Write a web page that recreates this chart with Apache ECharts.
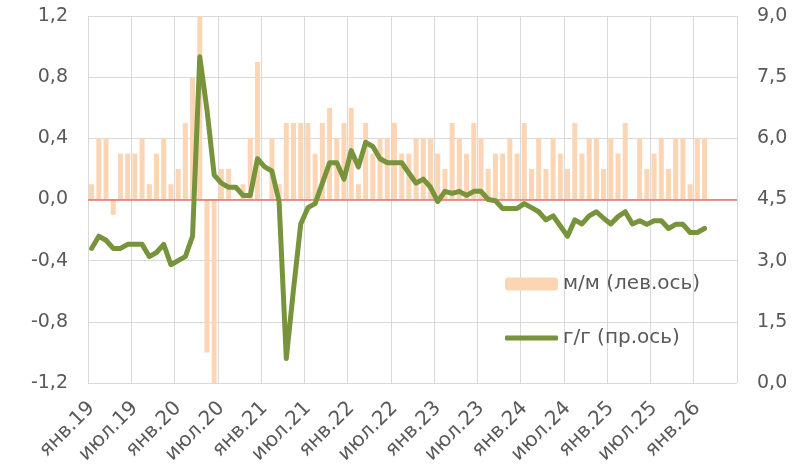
<!DOCTYPE html>
<html>
<head>
<meta charset="utf-8">
<script src="https://cdn.jsdelivr.net/npm/echarts@6/dist/echarts.min.js"></script>
<style>
html, body { margin: 0; padding: 0; background: #fff; }
#chart { width: 792px; height: 472px; }
</style>
</head>
<body>
<div id="chart"></div>
<script>
// подписи месяцев, янв.19 ... июн.26
const months = ['янв', 'фев', 'мар', 'апр', 'май', 'июн', 'июл', 'авг', 'сен', 'окт', 'ноя', 'дек']
const years = ['19', '20', '21', '22', '23', '24', '25', '26']
const categories = []
years.forEach(y => months.forEach(m => categories.push(m + '.' + y)))
categories.length = 90

// м/м, %, левая ось
const mom = [
  0.1, 0.4, 0.4, -0.1, 0.3, 0.3, 0.3, 0.4, 0.1, 0.3, 0.4, 0.1,
  0.2, 0.5, 0.8, 1.2, -1.0, -1.2, 0.2, 0.2, 0.0, 0.1, 0.4, 0.9,
  0.0, 0.4, 0.1, 0.5, 0.5, 0.5, 0.5, 0.3, 0.5, 0.6, 0.4, 0.5,
  0.6, 0.1, 0.5, 0.3, 0.4, 0.4, 0.5, 0.3, 0.3, 0.4, 0.4, 0.4,
  0.3, 0.2, 0.5, 0.4, 0.3, 0.5, 0.4, 0.2, 0.3, 0.3, 0.4, 0.3,
  0.5, 0.2, 0.4, 0.2, 0.4, 0.3, 0.2, 0.5, 0.3, 0.4, 0.4, 0.2,
  0.4, 0.3, 0.5, 0.0, 0.4, 0.2, 0.3, 0.4, 0.2, 0.4, 0.4, 0.1,
  0.4, 0.4
]

// г/г, %, правая ось
const yoy = [
  3.3, 3.6, 3.5, 3.3, 3.3, 3.4, 3.4, 3.4, 3.1, 3.2, 3.4, 2.9,
  3.0, 3.1, 3.6, 8.0, 6.7, 5.1, 4.9, 4.8, 4.8, 4.6, 4.6, 5.5,
  5.3, 5.2, 4.45, 0.6, 2.3, 3.9, 4.3, 4.4, 4.9, 5.4, 5.4, 5.0,
  5.7, 5.3, 5.9, 5.8, 5.5, 5.4, 5.4, 5.4, 5.15, 4.9, 5.0, 4.8,
  4.45, 4.7, 4.65, 4.7, 4.6, 4.7, 4.7, 4.5, 4.47, 4.28, 4.28, 4.28,
  4.4, 4.3, 4.2, 4.0, 4.1, 3.85, 3.6, 4.0, 3.9, 4.1, 4.2, 4.04,
  3.9, 4.08, 4.2, 3.9, 3.98, 3.89, 3.98, 3.98, 3.79, 3.89, 3.89, 3.69,
  3.69, 3.79
]

// вертикальная сетка: границы полугодий
const gridMonths = [0, 6, 12, 18, 24, 30, 36, 42, 48, 54, 60, 66, 72, 78, 84, 90]

const textColor = '#595959'
const gridColor = '#D9D9D9'
const font = 'DejaVu Sans'
const fmt = v => v.toFixed(1).replace('.', ',')

const chart = echarts.init(document.getElementById('chart'))
chart.setOption({
  animation: false,
  textStyle: { fontFamily: font },
  grid: {
    left: 88,
    right: 55,
    top: 16,
    bottom: 89
  },
  legend: [{
    data: ['м/м (лев.ось)'],
    left: 500,
    top: 269,
    itemWidth: 53,
    itemHeight: 13,
    itemGap: 5,
    textStyle: { fontSize: 20, color: textColor, fontFamily: font }
  }, {
    data: [{ name: 'г/г (пр.ось)', icon: 'roundRect', itemStyle: { color: '#77933C' } }],
    left: 500,
    top: 323,
    itemWidth: 53,
    itemHeight: 5,
    textStyle: { fontSize: 20, color: textColor, fontFamily: font }
  }],
  xAxis: [{
    type: 'category',
    data: categories,
    boundaryGap: true,
    axisLine: { show: false },
    axisTick: { show: false },
    axisLabel: {
      interval: 5,
      rotate: 45,
      margin: 22,
      fontSize: 20,
      color: textColor
    },
    splitLine: { show: false }
  }, {
    // вспомогательная ось для вертикальной сетки
    type: 'value',
    min: 0,
    max: 90,
    position: 'top',
    show: true,
    axisLine: { show: false },
    axisTick: { show: false },
    axisLabel: { show: false },
    splitLine: { show: false }
  }],
  yAxis: [{
    type: 'value',
    min: -1.2,
    max: 1.2,
    interval: 0.4,
    axisLine: { show: false },
    axisTick: { show: false },
    axisLabel: { formatter: fmt, fontSize: 19, color: textColor, margin: 20 },
    splitLine: { lineStyle: { color: gridColor, width: 1 } }
  }, {
    type: 'value',
    min: 0,
    max: 9,
    interval: 1.5,
    axisLine: { show: false },
    axisTick: { show: false },
    axisLabel: { formatter: fmt, fontSize: 19, color: textColor, margin: 20 },
    splitLine: { show: false }
  }],
  series: [{
    name: 'grid',
    type: 'line',
    xAxisIndex: 1,
    yAxisIndex: 0,
    data: [[0, 0]],
    symbol: 'none',
    lineStyle: { opacity: 0 },
    silent: true,
    z: 0,
    markLine: {
      silent: true,
      z: 0,
      symbol: 'none',
      label: { show: false },
      lineStyle: { color: gridColor, width: 1, type: 'solid' },
      data: gridMonths.map(m => ({ xAxis: m }))
    }
  }, {
    name: 'м/м (лев.ось)',
    type: 'bar',
    data: mom,
    xAxisIndex: 0,
    yAxisIndex: 0,
    barWidth: 5,
    z: 2,
    itemStyle: { color: '#FCD5B5' },
    markLine: {
      silent: true,
      z: 2.5,
      symbol: 'none',
      label: { show: false },
      lineStyle: { color: '#E0706B', width: 1.5, type: 'solid' },
      data: [{ yAxis: 0 }]
    }
  }, {
    name: 'г/г (пр.ось)',
    type: 'line',
    data: yoy,
    xAxisIndex: 0,
    yAxisIndex: 1,
    symbol: 'none',
    lineStyle: { color: '#77933C', width: 5, cap: 'round', join: 'round' },
    itemStyle: { color: '#77933C' },
    z: 3
  }]
})
</script>
</body>
</html>
